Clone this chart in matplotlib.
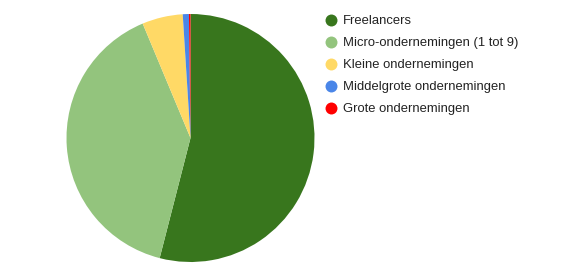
import matplotlib
matplotlib.use("Agg")
import matplotlib.pyplot as plt
from matplotlib.lines import Line2D

categories = ["Freelancers", "Micro-ondernemingen (1 tot 9)", "Kleine ondernemingen",
              "Middelgrote ondernemingen", "Grote ondernemingen"]
values = [54.0, 39.7, 5.3, 0.8, 0.2]
colors = ["#38761d", "#93c47d", "#ffd966", "#4a86e8", "#ff0000"]

W, H = 575, 273
fig = plt.figure(figsize=(W / 100, H / 100), dpi=100)
plt.rcParams['font.family'] = ['Liberation Sans', 'DejaVu Sans']

cx, cy, r = 190.5, 138, 124
ax = fig.add_axes([(cx - r) / W, (H - cy - r) / H, 2 * r / W, 2 * r / H])
ax.pie(values, colors=colors, startangle=90, counterclock=False, radius=1,
       wedgeprops=dict(linewidth=0))
ax.set_xlim(-1, 1)
ax.set_ylim(-1, 1)
ax.set_aspect('equal')
ax.axis('off')

x_m, x_t, y0, dy = 331, 343, 19.8, 22
for i, (lab, col) in enumerate(zip(categories, colors)):
    y = y0 + i * dy
    fig.add_artist(Line2D([x_m / W], [1 - y / H], marker='o', markersize=8.6,
                          color=col, markeredgewidth=0, transform=fig.transFigure))
    fig.text(x_t / W, 1 - (y + 4.5) / H, lab, fontsize=9.4, color='#222222',
             va='baseline', ha='left')

fig.savefig("out.png", dpi=100)
